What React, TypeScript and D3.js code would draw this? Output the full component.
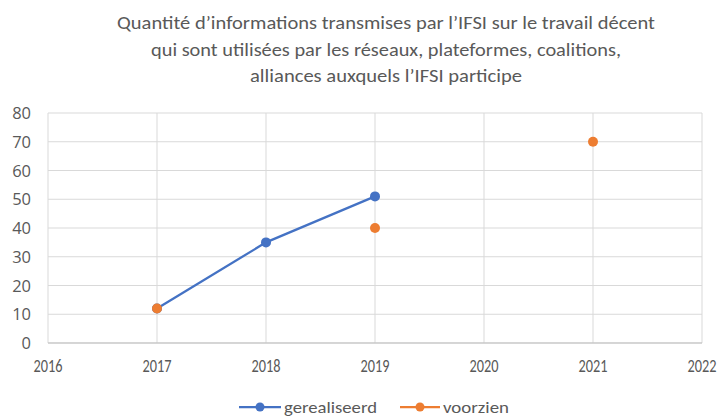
import * as d3 from "d3";

const gerealiseerd = [
  { year: 2017, value: 12 },
  { year: 2018, value: 35 },
  { year: 2019, value: 51 },
];
const voorzien = [
  { year: 2017, value: 12 },
  { year: 2019, value: 40 },
  { year: 2021, value: 70 },
];
const xTicks = [2016, 2017, 2018, 2019, 2020, 2021, 2022];
const yTicks = [0, 10, 20, 30, 40, 50, 60, 70, 80];
const titleLines = [
  "Quantité d’informations transmises par l’IFSI sur le travail décent",
  "qui sont utilisées par les réseaux, plateformes, coalitions,",
  "alliances auxquels l’IFSI participe",
];
const titleWidths = [538, 470, 272];

const W = 722, H = 417;
const font = "Calibri, Carlito, Lato, sans-serif";
const tickFont = "'Open Sans', sans-serif";

export default function App() {
  const x = d3.scaleLinear().domain([2016, 2022]).range([48, 702]);
  const y = d3.scaleLinear().domain([0, 80]).range([343, 113]);
  const line = d3.line<{ year: number; value: number }>()
    .x(d => x(d.year))
    .y(d => y(d.value));

  return (
    <svg width={W} height={H} style={{ position: "absolute", left: 0, top: 0, background: "#fff" }}>
      {titleLines.map((t, i) => (
        <text key={i} x={386} y={29 + i * 26.5} textAnchor="middle" fontFamily={font} fontSize={19}
          fill="#595959" textLength={titleWidths[i]} lengthAdjust="spacingAndGlyphs">{t}</text>
      ))}
      {yTicks.map(t => (
        <g key={t}>
          <line x1={x(2016)} x2={x(2022)} y1={y(t)} y2={y(t)} stroke="#d9d9d9" strokeWidth={1} />
          <text x={31} y={y(t) + 6} textAnchor="end" fontFamily={tickFont} fontSize={16.5} fill="#595959">{t}</text>
        </g>
      ))}
      {xTicks.map(t => (
        <g key={t}>
          <line x1={x(t)} x2={x(t)} y1={y(80)} y2={y(0)} stroke="#d9d9d9" strokeWidth={1} />
          <text x={x(t)} y={372} textAnchor="middle" fontFamily={font} fontSize={17.5} fill="#595959"
            textLength={29} lengthAdjust="spacingAndGlyphs">{t}</text>
        </g>
      ))}
      <line x1={x(2016)} x2={x(2022)} y1={y(0)} y2={y(0)} stroke="#bfbfbf" strokeWidth={1} />
      <path d={line(gerealiseerd) || ""} fill="none" stroke="#4472C4" strokeWidth={2.25} />
      {gerealiseerd.map(d => (
        <circle key={"g" + d.year} cx={x(d.year)} cy={y(d.value)} r={5} fill="#4472C4" />
      ))}
      {voorzien.map(d => (
        <circle key={"v" + d.year} cx={x(d.year)} cy={y(d.value)} r={5} fill="#ED7D31" />
      ))}
      <g transform="translate(0,407)">
        <line x1={239} x2={281} y1={0} y2={0} stroke="#4472C4" strokeWidth={2.25} />
        <circle cx={260} cy={0} r={4.5} fill="#4472C4" />
        <text x={284} y={6} fontFamily={font} fontSize={17} fill="#595959" textLength={93} lengthAdjust="spacingAndGlyphs">gerealiseerd</text>
        <line x1={400} x2={440} y1={0} y2={0} stroke="#ED7D31" strokeWidth={2.25} />
        <circle cx={420} cy={0} r={4.5} fill="#ED7D31" />
        <text x={443} y={6} fontFamily={font} fontSize={17} fill="#595959" textLength={66} lengthAdjust="spacingAndGlyphs">voorzien</text>
      </g>
    </svg>
  );
}
